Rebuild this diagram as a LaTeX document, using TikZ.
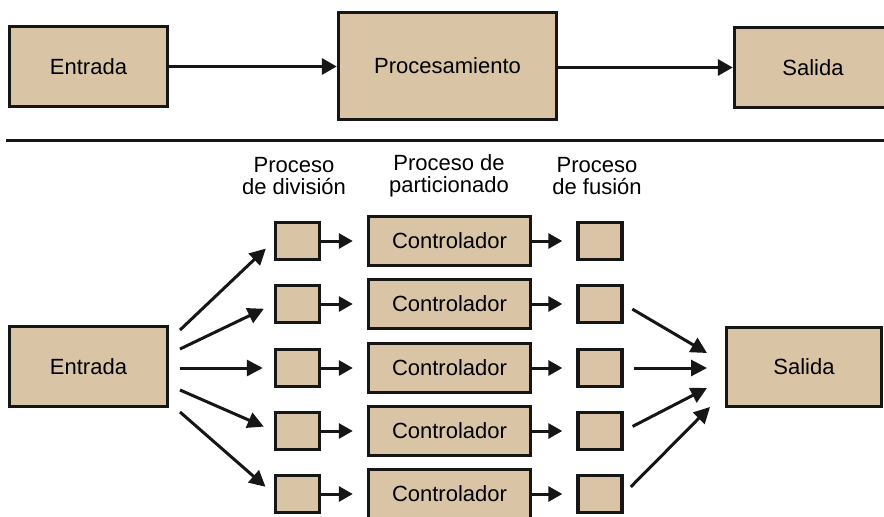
\documentclass[tikz,border=0pt]{standalone}
\usepackage{fontspec}
\setmainfont{Liberation Sans}
\usetikzlibrary{arrows.meta}

\definecolor{boxfill}{HTML}{D9C4A6}
\definecolor{ink}{HTML}{161616}

\tikzset{
  block/.style={draw=ink, line width=3.4pt, fill=boxfill, inner sep=0pt,
                font=\fontsize{22}{23}\selectfont},
  bigbox/.style={block, minimum width=158pt, minimum height=80pt},
  ctrlbox/.style={block, minimum width=162pt, minimum height=49pt},
  smallbox/.style={block, minimum width=44pt, minimum height=37pt},
  heading/.style={align=center, font=\fontsize{22}{22.5}\selectfont, inner sep=0pt},
  bigarrow/.style={draw=ink, line width=3.3pt, -{Triangle[length=15pt,width=16pt]}},
  fanarrow/.style={draw=ink, line width=3pt, -{Triangle[length=16pt,width=16pt]}},
  shortarrow/.style={draw=ink, line width=3pt, -{Triangle[length=14pt,width=15pt]}},
}

\begin{document}
\begin{tikzpicture}[x=1pt, y=-1pt]
  \clip (0,0) rectangle (884,517);
  \fill[white] (0,0) rectangle (884,517);

  % --- overall sequential flow ---
  \node[bigbox] (inTop) at (88.5,66.5) {Entrada};
  \node[block, minimum width=218pt, minimum height=107pt] (proc) at (447.5,66) {Procesamiento};
  \node[bigbox, minimum width=157pt] (outTop) at (813,67.5) {Salida};
  \draw[bigarrow] (inTop.east) -- (proc.west |- inTop.east);
  \draw[bigarrow] (proc.east |- outTop.west) -- (outTop.west);

  % separator
  \coordinate (sepL) at (6,140);
  \coordinate (sepR) at (884,140);
  \draw[ink, line width=3pt] (sepL) -- (sepR);

  % --- parallel flow ---
  \node[heading] (hDiv)  at (294,176) {Proceso\\de división};
  \node[heading] (hPart) at (449,176) {Proceso de\\particionado};
  \node[heading] (hFus)  at (597,176) {Proceso\\de fusión};

  \node[bigbox] (inBot) at (88.5,366.5) {Entrada};
  \node[bigbox, minimum width=155pt, minimum height=79pt] (outBot) at (804,367) {Salida};

  \foreach \i/\y/\sy in {1/241/330, 2/304/349, 3/368/368, 4/431/390, 5/494/412} {
    \node[smallbox] (d\i) at (297.5,\y) {};
    \node[ctrlbox]  (c\i) at (449.5,\y) {Controlador};
    \node[smallbox] (f\i) at (600,\y) {};
    \coordinate (s\i) at (180,\sy);
    \draw[fanarrow, shorten >=11pt] (s\i) -- (d\i.west);
    \draw[shortarrow, shorten >=14pt] (d\i.east) -- (c\i.west);
    \draw[shortarrow, shorten >=14pt] (c\i.east) -- (f\i.west);
  }

  % merge arrows toward the output
  \coordinate (t2) at (707,353);
  \coordinate (t3) at (707,368);
  \coordinate (t4) at (707,388);
  \coordinate (t5) at (710,407);
  \foreach \i in {2,3,4,5} {
    \draw[fanarrow, shorten <=10pt] (f\i.east) -- (t\i);
  }
\end{tikzpicture}
\end{document}
